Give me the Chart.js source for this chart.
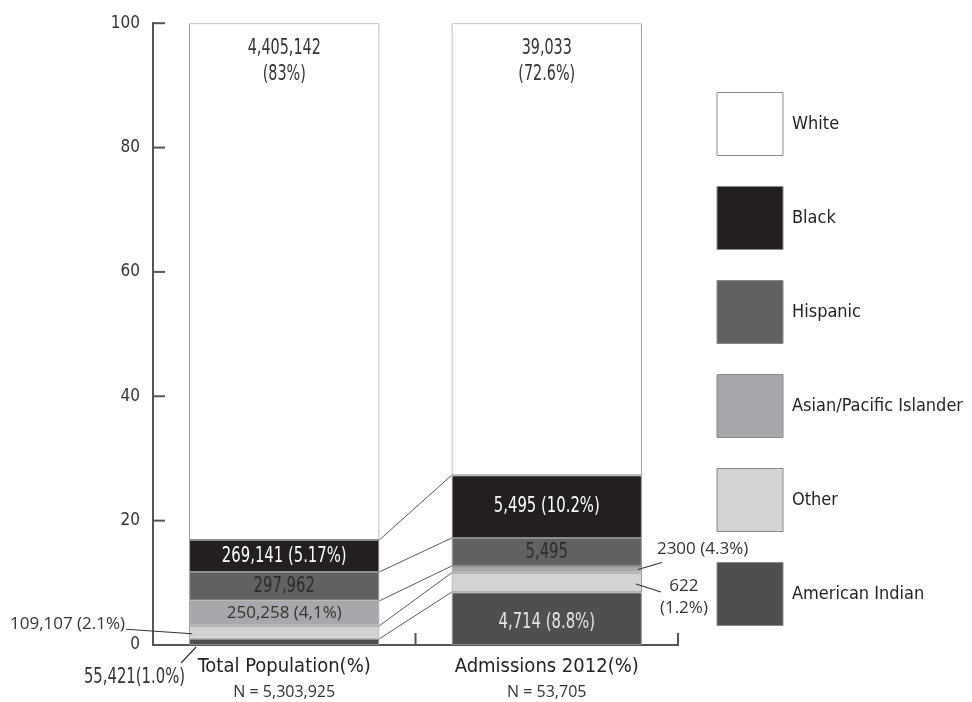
<!DOCTYPE html>
<html>
<head>
<meta charset="utf-8">
<script src="https://cdn.jsdelivr.net/npm/chart.js@4.4.0/dist/chart.umd.min.js"></script>
<style>
    html, body { margin: 0; padding: 0; background: #fff; }
</style>
</head>
<body>
<canvas id="raceChart" width="972" height="702"></canvas>
<script>
// DATA
const categories = ['Total Population(%)', 'Admissions 2012(%)'];
const sampleSizes = ['N = 5,303,925', 'N = 53,705'];
const yTicks = [0, 20, 40, 60, 80, 100];

// stacked bottom to top
const groups = ['American Indian', 'Other', 'Asian/Pacific Islander', 'Hispanic', 'Black', 'White'];
const americanIndian = [1.0, 8.5];
const other = [2.1, 3.1];
const asianPacific = [4.0, 1.1];
const hispanic = [4.65, 4.5];
const black = [5.15, 10.1];
const white = [83.1, 72.7];

// segment labels, same order as groups
const americanIndianLabels = ['55,421(1.0%)', '4,714 (8.8%)'];
const otherLabels = ['109,107 (2.1%)', '622\n(1.2%)'];
const asianLabels = ['250,258 (4,1%)', '2300 (4.3%)'];
const hispanicLabels = ['297,962', '5,495'];
const blackLabels = ['269,141 (5.17%)', '5,495 (10.2%)'];
const whiteLabels = ['4,405,142\n(83%)', '39,033\n(72.6%)'];

const seriesValues = [americanIndian, other, asianPacific, hispanic, black, white];
const seriesLabels = [americanIndianLabels, otherLabels, asianLabels, hispanicLabels, blackLabels, whiteLabels];
const seriesColors = ['#4e4f51', '#d2d3d5', '#a6a8ab', '#606163', '#231f20', '#ffffff'];

// STYLE
const condensed = "'DejaVu Sans Condensed', 'DejaVu Sans', sans-serif";
const plain = "'Open Sans', 'Liberation Sans', sans-serif";
const axisColor = '#555';

const font = (size, family) => `${size}px ${family}`;

// squeeze text sideways so it looks like the narrow face of the original
const drawText = (ctx, text, x, y, align, sx) => {
    ctx.save();
    ctx.translate(x, y);
    ctx.scale(sx, 1);
    ctx.textAlign = align;
    ctx.fillText(text, 0, 0);
    ctx.restore();
};

const leader = (ctx, x1, y1, x2, y2) => {
    ctx.beginPath();
    ctx.moveTo(x1, y1);
    ctx.lineTo(x2, y2);
    ctx.stroke();
};

// draws the labels, connector lines and the inward ticks
const annotations = {
    id: 'annotations',
    afterLayout(chart) {
        // move the legend a bit right and up
        chart.legend.left += 8;
        chart.legend.right += 8;
        chart.legend.top -= 3;
        chart.legend.bottom -= 3;
    },
    afterDatasetsDraw(chart) {
        const ctx = chart.ctx;
        const area = chart.chartArea;
        const xScale = chart.scales.x;
        const yScale = chart.scales.y;
        const metas = chart.data.datasets.map((d, i) => chart.getDatasetMeta(i));

        ctx.save();

        // connector lines between the two bars
        ctx.strokeStyle = '#5a5a5a';
        ctx.lineWidth = 1;
        for (let d = 0; d < metas.length - 1; d++) {
            const a = metas[d].data[0];
            const b = metas[d].data[1];
            leader(ctx, a.x + a.width / 2, a.y, b.x - b.width / 2, b.y);
        }

        // inward ticks on the y axis
        ctx.strokeStyle = axisColor;
        ctx.lineWidth = 2;
        yTicks.forEach(v => {
            const y = yScale.getPixelForValue(v);
            leader(ctx, area.left, y, area.left + 12, y);
        });

        // upward ticks on the x axis at category edges
        const step = xScale.getPixelForValue(1) - xScale.getPixelForValue(0);
        categories.forEach((c, i) => {
            const x = xScale.getPixelForValue(i) + step / 2;
            leader(ctx, x, area.bottom, x, area.bottom - 12);
        });

        // segment labels
        ctx.textBaseline = 'middle';
        ctx.strokeStyle = '#333';
        ctx.lineWidth = 1.2;
        metas.forEach((meta, d) => {
            const name = groups[d];
            meta.data.forEach((el, i) => {
                const text = seriesLabels[d][i];
                const lines = text.split('\n');
                const mid = (el.y + el.base) / 2;
                const left = el.x - el.width / 2;
                const right = el.x + el.width / 2;

                if (name === 'White') {
                    ctx.font = font(21, condensed);
                    ctx.fillStyle = '#333';
                    lines.forEach((t, k) => drawText(ctx, t, el.x, el.y + 25 + k * 26, 'center', 0.76));
                } else if (name === 'Black') {
                    ctx.font = font(22, condensed);
                    ctx.fillStyle = '#fff';
                    drawText(ctx, text, el.x, mid, 'center', 0.75);
                } else if (name === 'Hispanic') {
                    ctx.font = font(22, condensed);
                    ctx.fillStyle = '#2b2b2b';
                    drawText(ctx, text, el.x, mid, 'center', 0.75);
                } else if (name === 'Asian/Pacific Islander') {
                    ctx.font = font(17, plain);
                    ctx.fillStyle = '#333';
                    if (i === 0) {
                        drawText(ctx, text, el.x, mid, 'center', 1);
                    } else {
                        drawText(ctx, text, right + 15, mid - 20, 'left', 1);
                        leader(ctx, right - 4, mid, right + 20, mid - 7);
                    }
                } else if (name === 'Other') {
                    ctx.font = font(17, plain);
                    ctx.fillStyle = '#333';
                    if (i === 0) {
                        drawText(ctx, text, left - 64, mid - 8, 'right', 1);
                        leader(ctx, left - 63, mid - 3, left + 3, mid + 1.5);
                    } else {
                        lines.forEach((t, k) => drawText(ctx, t, right + 42, mid + 3.5 + k * 22, 'center', 1));
                        leader(ctx, right - 6, mid + 1.5, right + 19, mid + 9.5);
                    }
                } else if (name === 'American Indian') {
                    ctx.font = font(22, condensed);
                    if (i === 0) {
                        ctx.fillStyle = '#333';
                        drawText(ctx, text, left - 4, el.base + 32, 'right', 0.75);
                        leader(ctx, left - 8, el.base + 18, left + 7, el.base + 2);
                    } else {
                        ctx.fillStyle = '#e6e6e6';
                        drawText(ctx, text, el.x, mid + 4, 'center', 0.75);
                    }
                }
            });
        });

        // sample sizes under the category names
        ctx.font = font(16, plain);
        ctx.fillStyle = '#333';
        sampleSizes.forEach((s, i) => {
            drawText(ctx, s, xScale.getPixelForValue(i), 692, 'center', 1);
        });

        ctx.restore();
    }
};

// CHART
const ctx = document.getElementById('raceChart');
const raceChart = new Chart(ctx, {
    type: 'bar',
    data: {
        labels: categories,
        datasets: groups.map((g, d) => ({
            label: g,
            data: seriesValues[d],
            backgroundColor: seriesColors[d],
            borderColor: '#8a8a8a',
            borderWidth: 1,
            borderSkipped: false,
            barPercentage: 0.725,
            categoryPercentage: 1
        }))
    },
    options: {
        responsive: false,
        animation: false,
        layout: {
            padding: { top: 22, right: 7, bottom: 0, left: 0 }
        },
        scales: {
            x: {
                stacked: true,
                grid: { display: false, drawTicks: false },
                border: { display: true, color: axisColor, width: 2 },
                ticks: {
                    color: '#222',
                    font: { family: condensed, size: 20 },
                    padding: 10,
                    maxRotation: 0
                },
                afterFit: scale => { scale.height = 57; }
            },
            y: {
                stacked: true,
                min: 0,
                max: 100,
                grid: { display: false, drawTicks: false },
                border: { display: true, color: axisColor, width: 2 },
                afterBuildTicks: scale => { scale.ticks = yTicks.map(v => ({ value: v })); },
                ticks: {
                    color: '#333',
                    font: { family: condensed, size: 17 },
                    padding: 13
                },
                afterFit: scale => { scale.width = 153; }
            }
        },
        plugins: {
            legend: {
                position: 'right',
                align: 'center',
                reverse: true,
                maxWidth: 294,
                labels: {
                    boxWidth: 66,
                    boxHeight: 63,
                    padding: 31,
                    color: '#231f20',
                    font: { family: condensed, size: 18 }
                }
            },
            tooltip: { enabled: false }
        }
    },
    plugins: [annotations]
});
</script>
</body>
</html>
